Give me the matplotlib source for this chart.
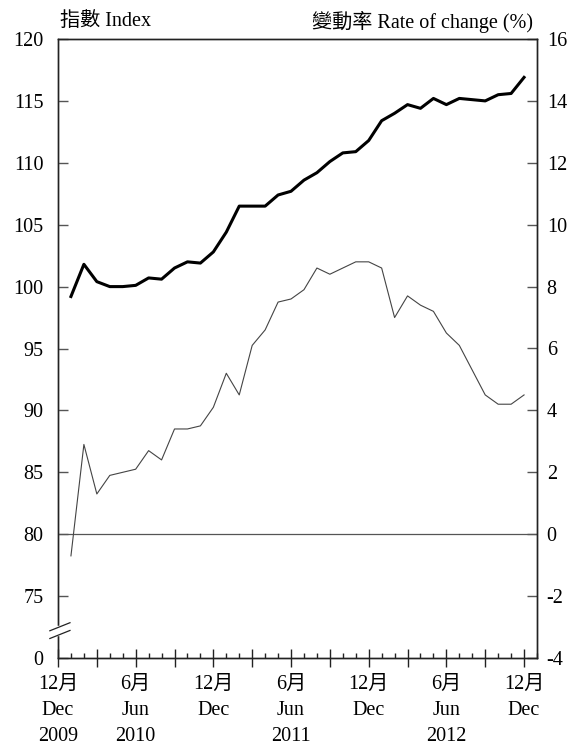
import matplotlib
matplotlib.use("Agg")
import matplotlib.pyplot as plt
from matplotlib.ticker import FixedLocator, MultipleLocator
import numpy as np

plt.rcParams['font.family'] = ['Liberation Serif', 'Noto Sans CJK TC']

# Months from Jan 2010 (1) to Dec 2012 (36); Dec 2009 = 0
months = list(range(1, 37))
index_values = [99.2, 101.8, 100.4, 100.0, 100.0, 100.1, 100.7, 100.6, 101.5, 102.0, 101.9, 102.8,
                104.4, 106.5, 106.5, 106.5, 107.4, 107.7, 108.6, 109.2, 110.1, 110.8, 110.9, 111.8,
                113.4, 114.0, 114.7, 114.4, 115.2, 114.7, 115.2, 115.1, 115.0, 115.5, 115.6, 116.9]
rate_values = [-0.7, 2.9, 1.3, 1.9, 2.0, 2.1, 2.7, 2.4, 3.4, 3.4, 3.5, 4.1,
               5.2, 4.5, 6.1, 6.6, 7.5, 7.6, 7.9, 8.6, 8.4, 8.6, 8.8, 8.8,
               8.6, 7.0, 7.7, 7.4, 7.2, 6.5, 6.1, 5.3, 4.5, 4.2, 4.2, 4.5]

left_ticks = [70, 75, 80, 85, 90, 95, 100, 105, 110, 115, 120]
left_labels = ['0', '75', '80', '85', '90', '95', '100', '105', '110', '115', '120']
right_ticks = [-4, -2, 0, 2, 4, 6, 8, 10, 12, 14, 16]
x_label_pos = [0, 6, 12, 18, 24, 30, 36]
x_labels = ['12月\nDec\n2009', '6月\nJun\n2010', '12月\nDec', '6月\nJun\n2011',
            '12月\nDec', '6月\nJun\n2012', '12月\nDec']

FS = 14.5

fig = plt.figure(figsize=(5.71, 7.47), dpi=100)
ax = fig.add_axes([58/571, 1-658/747, (537-58)/571, (658-39)/747])
ax2 = ax.twinx()

spine_c = '#222222'
for a in (ax, ax2):
    for s in a.spines.values():
        s.set_color(spine_c)
        s.set_linewidth(1.0)

ax.set_xlim(0, 37)
ax.set_ylim(70, 120)
ax2.set_ylim(-4, 16)

ax2.axhline(0, color='#555555', lw=0.9, zorder=1)
ax2.plot(months, rate_values, color='#444444', lw=0.8, zorder=2)
ax.plot(months, index_values, color='black', lw=2.2, zorder=3)
ax.set_zorder(ax2.get_zorder() + 1)
ax.patch.set_visible(False)

ax.set_yticks(left_ticks)
ax.set_yticklabels(left_labels)
ax2.set_yticks(right_ticks)
ax2.set_yticklabels([str(t) for t in right_ticks])

ax.xaxis.set_major_locator(FixedLocator(list(range(0, 37, 3))))
ax.xaxis.set_minor_locator(MultipleLocator(1))
lbls = []
for m in range(0, 37, 3):
    if m in x_label_pos:
        lbls.append(x_labels[x_label_pos.index(m)])
    else:
        lbls.append('')
ax.set_xticklabels(lbls, linespacing=1.5)

ax.tick_params(axis='x', which='major', direction='inout', length=13, width=1, color=spine_c,
               labelsize=FS, pad=6)
ax.tick_params(axis='x', which='minor', direction='in', length=3.8, width=1, color=spine_c)
ax.tick_params(axis='y', which='major', direction='in', length=7, width=1, color='#555555',
               labelsize=FS, pad=10.5)
ax2.tick_params(axis='y', which='major', direction='in', length=7, width=1, color='#555555',
                labelsize=FS, pad=7)

# axis break marks
tr = ax.transAxes
ax.add_patch(plt.Rectangle((-0.005, 0.037), 0.01, 0.015, transform=tr, color='white',
                           clip_on=False, zorder=10))
for dy in (0.0, 0.0125):
    ax.plot([-0.017, 0.025], [0.0315 + dy, 0.0445 + dy], transform=tr, color=spine_c,
            lw=0.9, clip_on=False, zorder=11)

fig.text(60/571, 1-22/747, '指數 Index', ha='left', va='center', fontsize=FS)
fig.text(533/571, 1-22/747, '變動率 Rate of change (%)', ha='right', va='center', fontsize=FS)

fig.savefig('out.png', dpi=100)
